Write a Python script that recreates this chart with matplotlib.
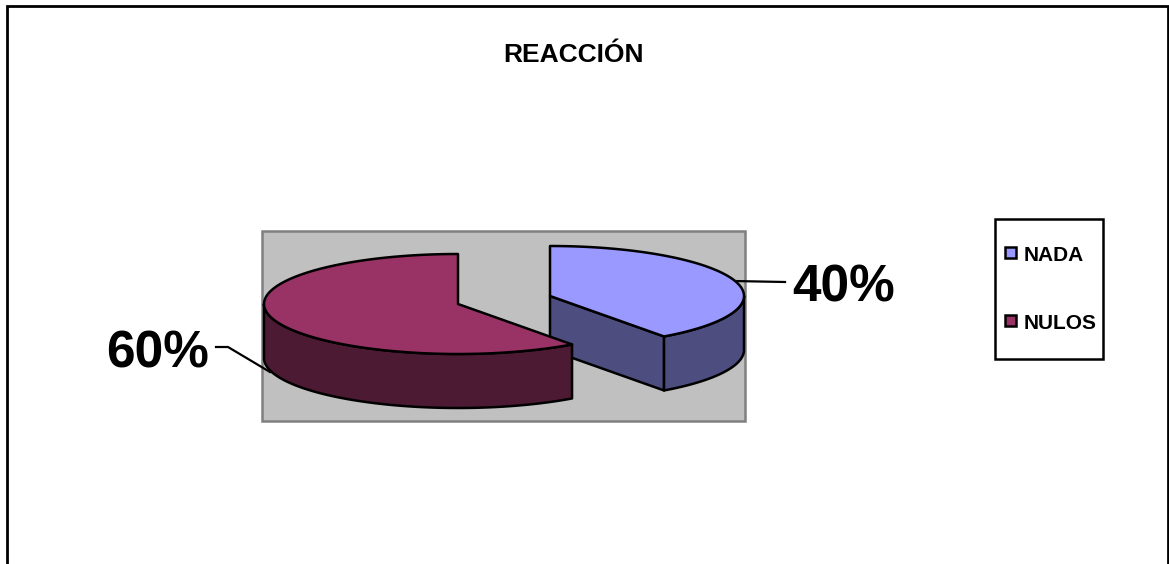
import numpy as np
import matplotlib
matplotlib.use("Agg")
import matplotlib.pyplot as plt
from matplotlib.patches import Polygon, Rectangle

title = "REACCIÓN"
categories = ["NADA", "NULOS"]
values = [40, 60]
pct_labels = ["40%", "60%"]
top_colors = ["#9999FF", "#993366"]
side_colors = ["#4D4D80", "#4D1A33"]

plt.rcParams["font.family"] = ["Liberation Sans", "DejaVu Sans"]
fig = plt.figure(figsize=(11.69, 5.64), dpi=100)
ax = fig.add_axes([0, 0, 1, 1])
ax.set_xlim(0, 1169)
ax.set_ylim(564, 0)
ax.axis("off")

# frame (open at the bottom)
ax.plot([7, 7, 1167.5, 1167.5], [564, 6, 6, 564], color="black", lw=2.0,
        solid_joinstyle="miter", zorder=1)
# plot area
ax.add_patch(Rectangle((262, 230.5), 482.5, 190.5, fc="#C0C0C0", ec="#808080", lw=1.8, zorder=1))

RX, RY, DEPTH = 194, 50, 54
centers = [(550, 296), (458, 304)]
LW = 1.8


def pt(c, a, dz=0):
    a = np.radians(a)
    return np.column_stack([c[0] + RX * np.sin(a), c[1] - RY * np.cos(a) + dz])


fractions = np.array(values) / sum(values) * 360
starts = np.concatenate([[0], np.cumsum(fractions)[:-1]])
z = 2
for c, s, f, tc, sc in zip(centers, starts, fractions, top_colors, side_colors):
    e = s + f
    ctr = np.array([c], dtype=float)
    edge = dict(ec="black", lw=LW, joinstyle="round", zorder=z)
    # radial wall facing the viewer (blue slice only: the far end of its sweep)
    if s == 0:
        end = pt(c, e)[0]
        wall = [c, end, end + [0, DEPTH], (c[0], c[1] + DEPTH)]
        ax.add_patch(Polygon(wall, fc=sc, **edge))
    # outer wall: the front half of the ellipse
    a0, a1 = max(s, 90), min(e, 270)
    arc = np.linspace(a0, a1, 120)
    wall = np.vstack([pt(c, arc), pt(c, arc[::-1], DEPTH)])
    ax.add_patch(Polygon(wall, fc=sc, **edge))
    # top face
    arc = np.linspace(s, e, 240)
    ax.add_patch(Polygon(np.vstack([ctr, pt(c, arc)]), fc=tc, **edge))
    z += 1

# leader lines
ax.plot([733, 785], [281, 282], color="black", lw=1.6, zorder=1.5)
ax.plot([216, 228, 270], [347, 347, 372], color="black", lw=1.6, zorder=1.5)

# labels
ax.text(843.5, 283, pct_labels[0], fontsize=37, fontweight="bold", ha="center", va="center_baseline")
ax.text(158, 348, pct_labels[1], fontsize=37, fontweight="bold", ha="center", va="center_baseline")
ax.text(573.5, 52, title, fontsize=19, fontweight="bold", ha="center", va="center_baseline")

# legend
ax.add_patch(Rectangle((995, 219), 108, 140, fc="white", ec="black", lw=1.8, zorder=2))
for name, col, y in zip(categories, top_colors, [252.5, 320.5]):
    ax.add_patch(Rectangle((1004.5, y - 5.5), 11, 11, fc=col, ec="black", lw=1.8, zorder=3))
    ax.text(1023.5, y + 1, name, fontsize=15, fontweight="bold", ha="left", va="center_baseline", zorder=3)

fig.savefig("out.png", dpi=100)
